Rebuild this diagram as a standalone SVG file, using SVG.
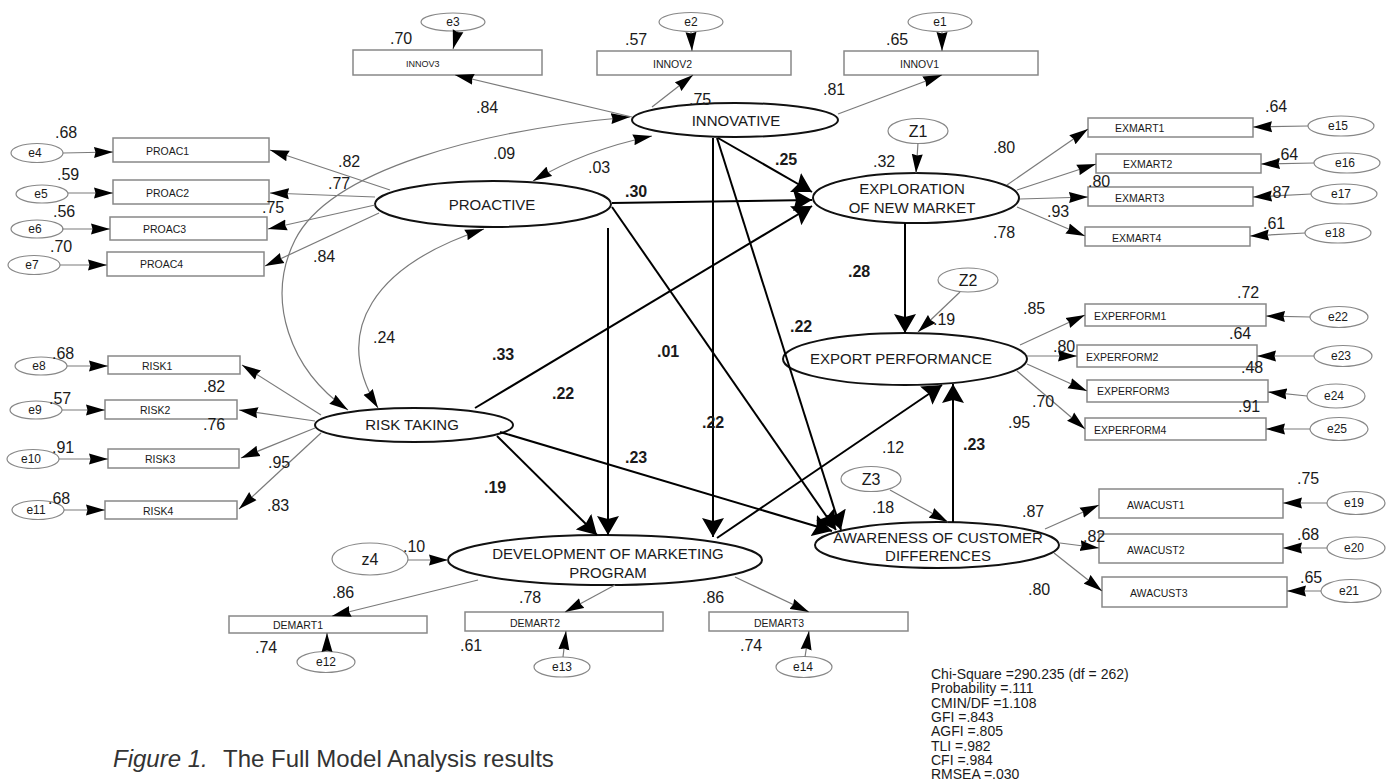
<svg xmlns="http://www.w3.org/2000/svg" width="1389" height="783" viewBox="0 0 1389 783">
<style>
text{font-family:"Liberation Sans",Arial,sans-serif;fill:#1a1a1a}
.lat{fill:#fff;stroke:#111;stroke-width:2}
.err{fill:#fff;stroke:#888;stroke-width:1.2}
.ind{fill:#fff;stroke:#888;stroke-width:1.5}
.thin{stroke:#7a7a7a;stroke-width:1.2;fill:none}
.bold{stroke:#000;stroke-width:2;fill:none}
.tl{font-size:15px;text-anchor:middle}
.ti{font-size:10.5px}
.te{font-size:12px;text-anchor:middle}
.tz{font-size:16px;text-anchor:middle}
.tn{font-size:16px}
.tb{font-size:16px;font-weight:bold}
.fit{font-size:14px}
</style>
<defs>
<marker id="ah" markerUnits="userSpaceOnUse" markerWidth="20" markerHeight="12" refX="19" refY="6" orient="auto"><path d="M0,0.5 L19,6 L0,11.5 L1.5,6 z" fill="#000"/></marker>
<marker id="ahs" markerUnits="userSpaceOnUse" markerWidth="20" markerHeight="12" refX="19" refY="6" orient="auto-start-reverse"><path d="M0,0.5 L19,6 L0,11.5 L1.5,6 z" fill="#000"/></marker>
<marker id="ab" markerUnits="userSpaceOnUse" markerWidth="20" markerHeight="22" refX="19" refY="11" orient="auto"><path d="M0,0 L19,11 L0,22 L3,11 z" fill="#000"/></marker>
</defs>
<rect width="1389" height="783" fill="#fff"/>

<!-- latent nodes -->
<g id="innovative"><ellipse class="lat" cx="735" cy="120" rx="103" ry="17"/><text class="tl" x="736" y="126">INNOVATIVE</text></g>
<g id="proactive"><ellipse class="lat" cx="493" cy="204" rx="118" ry="23"/><text class="tl" x="492" y="210">PROACTIVE</text></g>
<g id="risktaking"><ellipse class="lat" cx="414" cy="425" rx="99" ry="17"/><text class="tl" x="412" y="430">RISK TAKING</text></g>
<g id="exploration"><ellipse class="lat" cx="916" cy="198" rx="103" ry="25"/><text class="tl" x="912" y="194">EXPLORATION</text><text class="tl" x="912" y="213">OF NEW MARKET</text></g>
<g id="exportperf"><ellipse class="lat" cx="905" cy="359" rx="122" ry="26"/><text class="tl" x="901" y="364">EXPORT PERFORMANCE</text></g>
<g id="awareness"><ellipse class="lat" cx="937" cy="545" rx="122" ry="23"/><text class="tl" x="938" y="543">AWARENESS OF CUSTOMER</text><text class="tl" x="938" y="561">DIFFERENCES</text></g>
<g id="development"><ellipse class="lat" cx="605" cy="560" rx="157" ry="25"/><text class="tl" x="608" y="559">DEVELOPMENT OF MARKETING</text><text class="tl" x="608" y="578">PROGRAM</text></g>

<!-- disturbances -->
<g id="Z1"><ellipse class="err" cx="918" cy="131" rx="30" ry="12.5"/><text class="tz" x="918" y="137">Z1</text></g>
<g id="Z2"><ellipse class="err" cx="968" cy="280" rx="30" ry="12"/><text class="tz" x="968" y="286">Z2</text></g>
<g id="Z3"><ellipse class="err" cx="871" cy="479" rx="30" ry="12.5"/><text class="tz" x="871" y="485">Z3</text></g>
<g id="z4"><ellipse class="err" cx="370" cy="559" rx="38" ry="16"/><text class="tz" x="370" y="565">z4</text></g>

<!-- indicators -->
<g id="INNOV3"><rect class="ind" x="353" y="50" width="189" height="25"/><text class="ti" x="406" y="67" style="font-size:9px">INNOV3</text></g>
<g id="INNOV2"><rect class="ind" x="597" y="51" width="194" height="24"/><text class="ti" x="653" y="68">INNOV2</text></g>
<g id="INNOV1"><rect class="ind" x="844" y="51" width="194" height="24"/><text class="ti" x="900" y="68">INNOV1</text></g>
<g id="PROAC1"><rect class="ind" x="113" y="138" width="156" height="24"/><text class="ti" x="146" y="155">PROAC1</text></g>
<g id="PROAC2"><rect class="ind" x="113" y="180" width="156" height="24"/><text class="ti" x="146" y="197">PROAC2</text></g>
<g id="PROAC3"><rect class="ind" x="110" y="217" width="157" height="23"/><text class="ti" x="143" y="233">PROAC3</text></g>
<g id="PROAC4"><rect class="ind" x="107" y="252" width="157" height="24"/><text class="ti" x="140" y="268">PROAC4</text></g>
<g id="RISK1"><rect class="ind" x="108" y="356" width="132" height="18"/><text class="ti" x="142" y="370">RISK1</text></g>
<g id="RISK2"><rect class="ind" x="105" y="400" width="132" height="19"/><text class="ti" x="140" y="414">RISK2</text></g>
<g id="RISK3"><rect class="ind" x="108" y="449" width="131" height="19"/><text class="ti" x="145" y="463">RISK3</text></g>
<g id="RISK4"><rect class="ind" x="105" y="501" width="132" height="18"/><text class="ti" x="143" y="515">RISK4</text></g>
<g id="EXMART1"><rect class="ind" x="1088" y="118" width="165" height="19"/><text class="ti" x="1115" y="132">EXMART1</text></g>
<g id="EXMART2"><rect class="ind" x="1096" y="154" width="165" height="19"/><text class="ti" x="1123" y="168">EXMART2</text></g>
<g id="EXMART3"><rect class="ind" x="1088" y="187" width="165" height="19"/><text class="ti" x="1115" y="202">EXMART3</text></g>
<g id="EXMART4"><rect class="ind" x="1085" y="227" width="165" height="19"/><text class="ti" x="1112" y="242">EXMART4</text></g>
<g id="EXPERFORM1"><rect class="ind" x="1085" y="304" width="181" height="22"/><text class="ti" x="1094" y="320">EXPERFORM1</text></g>
<g id="EXPERFORM2"><rect class="ind" x="1077" y="345" width="180" height="22"/><text class="ti" x="1086" y="361">EXPERFORM2</text></g>
<g id="EXPERFORM3"><rect class="ind" x="1087" y="380" width="181" height="22"/><text class="ti" x="1097" y="395">EXPERFORM3</text></g>
<g id="EXPERFORM4"><rect class="ind" x="1085" y="418" width="181" height="22"/><text class="ti" x="1094" y="434">EXPERFORM4</text></g>
<g id="AWACUST1"><rect class="ind" x="1099" y="489" width="184" height="29"/><text class="ti" x="1127" y="509">AWACUST1</text></g>
<g id="AWACUST2"><rect class="ind" x="1099" y="534" width="184" height="29"/><text class="ti" x="1127" y="554">AWACUST2</text></g>
<g id="AWACUST3"><rect class="ind" x="1102" y="577" width="185" height="30"/><text class="ti" x="1130" y="597">AWACUST3</text></g>
<g id="DEMART1"><rect class="ind" x="229" y="616" width="198" height="17"/><text class="ti" x="273" y="629">DEMART1</text></g>
<g id="DEMART2"><rect class="ind" x="465" y="612" width="198" height="19"/><text class="ti" x="510" y="627">DEMART2</text></g>
<g id="DEMART3"><rect class="ind" x="709" y="612" width="199" height="19"/><text class="ti" x="754" y="627">DEMART3</text></g>

<!-- error terms -->
<g id="e1"><ellipse class="err" cx="940" cy="22" rx="32" ry="9.5"/><text class="te" x="940" y="26">e1</text></g>
<g id="e2"><ellipse class="err" cx="691" cy="22" rx="32" ry="9.5"/><text class="te" x="691" y="26">e2</text></g>
<g id="e3"><ellipse class="err" cx="453" cy="22" rx="32" ry="9"/><text class="te" x="453" y="26">e3</text></g>
<g id="e4"><ellipse class="err" cx="37" cy="153" rx="26" ry="9.5"/><text class="te" x="35" y="157">e4</text></g>
<g id="e5"><ellipse class="err" cx="42" cy="194" rx="26" ry="9"/><text class="te" x="41" y="198">e5</text></g>
<g id="e6"><ellipse class="err" cx="37" cy="229" rx="26" ry="9"/><text class="te" x="35" y="233">e6</text></g>
<g id="e7"><ellipse class="err" cx="34" cy="265" rx="26" ry="9.5"/><text class="te" x="32" y="269">e7</text></g>
<g id="e8"><ellipse class="err" cx="41" cy="366" rx="26" ry="9"/><text class="te" x="39" y="370">e8</text></g>
<g id="e9"><ellipse class="err" cx="36" cy="410" rx="26" ry="9"/><text class="te" x="35" y="414">e9</text></g>
<g id="e10"><ellipse class="err" cx="33" cy="459" rx="26" ry="9.5"/><text class="te" x="31" y="463">e10</text></g>
<g id="e11"><ellipse class="err" cx="38" cy="510" rx="26" ry="9.5"/><text class="te" x="36" y="514">e11</text></g>
<g id="e12"><ellipse class="err" cx="326" cy="662" rx="29" ry="10.5"/><text class="te" x="326" y="666">e12</text></g>
<g id="e13"><ellipse class="err" cx="562" cy="667" rx="28" ry="10"/><text class="te" x="562" y="671">e13</text></g>
<g id="e14"><ellipse class="err" cx="804" cy="667" rx="28" ry="10.5"/><text class="te" x="803" y="671">e14</text></g>
<g id="e15"><ellipse class="err" cx="1341" cy="126" rx="33" ry="10"/><text class="te" x="1338" y="130">e15</text></g>
<g id="e16"><ellipse class="err" cx="1347" cy="163" rx="33" ry="10"/><text class="te" x="1345" y="167">e16</text></g>
<g id="e17"><ellipse class="err" cx="1344" cy="194" rx="33" ry="10"/><text class="te" x="1341" y="198">e17</text></g>
<g id="e18"><ellipse class="err" cx="1338" cy="233" rx="33" ry="10"/><text class="te" x="1335" y="237">e18</text></g>
<g id="e19"><ellipse class="err" cx="1356" cy="503" rx="29" ry="11.5"/><text class="te" x="1354" y="507">e19</text></g>
<g id="e20"><ellipse class="err" cx="1356" cy="548" rx="29" ry="11"/><text class="te" x="1354" y="552">e20</text></g>
<g id="e21"><ellipse class="err" cx="1351" cy="591" rx="30" ry="11.5"/><text class="te" x="1349" y="595">e21</text></g>
<g id="e22"><ellipse class="err" cx="1339" cy="317" rx="29" ry="10.5"/><text class="te" x="1338" y="321">e22</text></g>
<g id="e23"><ellipse class="err" cx="1343" cy="356" rx="29" ry="10.5"/><text class="te" x="1341" y="360">e23</text></g>
<g id="e24"><ellipse class="err" cx="1336" cy="396" rx="29" ry="12"/><text class="te" x="1334" y="400">e24</text></g>
<g id="e25"><ellipse class="err" cx="1339" cy="429" rx="29" ry="11.5"/><text class="te" x="1337" y="433">e25</text></g>

<!-- connectors -->
<g id="connectors">
<g class="thin" marker-end="url(#ah)">
<line x1="458" y1="31" x2="453" y2="49"/>
<line x1="691" y1="32" x2="692" y2="51"/>
<line x1="942" y1="32" x2="942" y2="51"/>
<line x1="63" y1="153" x2="113" y2="152"/>
<line x1="68" y1="193" x2="113" y2="193"/>
<line x1="62" y1="229" x2="110" y2="229"/>
<line x1="60" y1="265" x2="107" y2="265"/>
<line x1="67" y1="366" x2="108" y2="366"/>
<line x1="62" y1="410" x2="105" y2="410"/>
<line x1="59" y1="459" x2="108" y2="459"/>
<line x1="64" y1="510" x2="105" y2="510"/>
<line x1="1308" y1="126" x2="1253" y2="127"/>
<line x1="1314" y1="163" x2="1261" y2="164"/>
<line x1="1311" y1="194" x2="1253" y2="197"/>
<line x1="1305" y1="233" x2="1250" y2="236"/>
<line x1="1310" y1="317" x2="1266" y2="316"/>
<line x1="1314" y1="356" x2="1257" y2="356"/>
<line x1="1307" y1="396" x2="1268" y2="392"/>
<line x1="1310" y1="429" x2="1266" y2="429"/>
<line x1="1327" y1="503" x2="1283" y2="503"/>
<line x1="1327" y1="548" x2="1283" y2="548"/>
<line x1="1321" y1="591" x2="1287" y2="591"/>
<line x1="327" y1="651" x2="327" y2="633"/>
<line x1="563" y1="657" x2="566" y2="631"/>
<line x1="805" y1="657" x2="809" y2="631"/>
<line x1="918" y1="143" x2="916" y2="173"/>
<line x1="960" y1="292" x2="918" y2="332"/>
<line x1="890" y1="490" x2="948" y2="522"/>
<line x1="408" y1="560" x2="448" y2="560"/>
<line x1="632" y1="117" x2="455" y2="75"/>
<line x1="652" y1="107" x2="693" y2="75"/>
<line x1="838" y1="114" x2="942" y2="75"/>
<line x1="390" y1="190" x2="270" y2="150"/>
<line x1="375" y1="197" x2="270" y2="193"/>
<line x1="375" y1="205" x2="268" y2="229"/>
<line x1="379" y1="213" x2="265" y2="266"/>
<line x1="321" y1="415" x2="242" y2="365"/>
<line x1="315" y1="421" x2="239" y2="410"/>
<line x1="315" y1="428" x2="241" y2="458"/>
<line x1="321" y1="433" x2="239" y2="509"/>
<line x1="1007" y1="185" x2="1088" y2="129"/>
<line x1="1017" y1="190" x2="1096" y2="164"/>
<line x1="1020" y1="199" x2="1088" y2="197"/>
<line x1="1017" y1="207" x2="1085" y2="236"/>
<line x1="1020" y1="345" x2="1085" y2="315"/>
<line x1="1027" y1="356" x2="1077" y2="356"/>
<line x1="1027" y1="364" x2="1087" y2="391"/>
<line x1="1017" y1="371" x2="1085" y2="429"/>
<line x1="1045" y1="529" x2="1099" y2="505"/>
<line x1="1060" y1="543" x2="1099" y2="548"/>
<line x1="1054" y1="553" x2="1102" y2="591"/>
<line x1="478" y1="580" x2="332" y2="616"/>
<line x1="615" y1="585" x2="565" y2="612"/>
<line x1="735" y1="577" x2="809" y2="612"/>
</g>
<g class="thin" marker-start="url(#ahs)" marker-end="url(#ahs)">
<path d="M630,117 C480,130 330,170 295,240 C265,300 290,370 348,410"/>
<path d="M652,136 Q585,150 533,181"/>
<path d="M484,229 C375,265 330,330 378,408"/>
</g>
<g class="bold" marker-end="url(#ab)">
<line x1="718" y1="138" x2="812" y2="192"/>
<line x1="612" y1="203" x2="812" y2="200"/>
<line x1="475" y1="408" x2="812" y2="206"/>
<line x1="905" y1="223" x2="905" y2="333"/>
<line x1="608" y1="228" x2="608" y2="535"/>
<line x1="713" y1="138" x2="713" y2="537"/>
<line x1="497" y1="436" x2="597" y2="535"/>
<line x1="612" y1="207" x2="836" y2="530"/>
<line x1="717" y1="138" x2="841" y2="530"/>
<line x1="500" y1="432" x2="832" y2="531"/>
<line x1="717" y1="538" x2="942" y2="385"/>
<line x1="953" y1="522" x2="953" y2="384"/>
</g>
</g>

<!-- coefficient labels -->
<g id="labels">
<text class="tn" x="390" y="44">.70</text>
<text class="tn" x="625" y="45">.57</text>
<text class="tn" x="886" y="45">.65</text>
<text class="tn" x="476" y="113">.84</text>
<text class="tn" x="689" y="105">.75</text>
<text class="tn" x="823" y="95">.81</text>
<text class="tn" x="493" y="159">.09</text>
<text class="tn" x="588" y="173">.03</text>
<text class="tb" x="775" y="165">.25</text>
<text class="tb" x="625" y="197">.30</text>
<text class="tn" x="873" y="167">.32</text>
<text class="tn" x="993" y="153">.80</text>
<text class="tn" x="1088" y="187">.80</text>
<text class="tn" x="1047" y="217">.93</text>
<text class="tn" x="993" y="238">.78</text>
<text class="tn" x="1265" y="112">.64</text>
<text class="tn" x="1276" y="160">.64</text>
<text class="tn" x="1268" y="198">.87</text>
<text class="tn" x="1263" y="229">.61</text>
<text class="tn" x="55" y="138">.68</text>
<text class="tn" x="57" y="180">.59</text>
<text class="tn" x="53" y="217">.56</text>
<text class="tn" x="50" y="252">.70</text>
<text class="tn" x="338" y="167">.82</text>
<text class="tn" x="328" y="189">.77</text>
<text class="tn" x="262" y="213">.75</text>
<text class="tn" x="313" y="262">.84</text>
<text class="tn" x="373" y="343">.24</text>
<text class="tn" x="52" y="359">.68</text>
<text class="tn" x="49" y="404">.57</text>
<text class="tn" x="52" y="453">.91</text>
<text class="tn" x="48" y="504">.68</text>
<text class="tn" x="203" y="392">.82</text>
<text class="tn" x="203" y="430">.76</text>
<text class="tn" x="268" y="468">.95</text>
<text class="tn" x="267" y="511">.83</text>
<text class="tb" x="492" y="360">.33</text>
<text class="tb" x="552" y="399">.22</text>
<text class="tb" x="657" y="357">.01</text>
<text class="tb" x="702" y="428">.22</text>
<text class="tb" x="625" y="463">.23</text>
<text class="tb" x="484" y="493">.19</text>
<text class="tb" x="790" y="332">.22</text>
<text class="tb" x="848" y="277">.28</text>
<text class="tn" x="882" y="453">.12</text>
<text class="tb" x="963" y="450">.23</text>
<text class="tn" x="933" y="325">.19</text>
<text class="tn" x="872" y="513">.18</text>
<text class="tn" x="403" y="552">.10</text>
<text class="tn" x="1023" y="314">.85</text>
<text class="tn" x="1053" y="352">.80</text>
<text class="tn" x="1032" y="407">.70</text>
<text class="tn" x="1008" y="428">.95</text>
<text class="tn" x="1237" y="298">.72</text>
<text class="tn" x="1229" y="339">.64</text>
<text class="tn" x="1241" y="373">.48</text>
<text class="tn" x="1238" y="412">.91</text>
<text class="tn" x="1022" y="517">.87</text>
<text class="tn" x="1083" y="542">.82</text>
<text class="tn" x="1028" y="595">.80</text>
<text class="tn" x="1297" y="484">.75</text>
<text class="tn" x="1297" y="540">.68</text>
<text class="tn" x="1300" y="583">.65</text>
<text class="tn" x="332" y="598">.86</text>
<text class="tn" x="255" y="653">.74</text>
<text class="tn" x="519" y="603">.78</text>
<text class="tn" x="460" y="651">.61</text>
<text class="tn" x="702" y="603">.86</text>
<text class="tn" x="740" y="651">.74</text>
</g>

<g id="fit">
<text class="fit" x="931" y="679">Chi-Square =290.235 (df = 262)</text>
<text class="fit" x="931" y="693">Probability =.111</text>
<text class="fit" x="931" y="708">CMIN/DF =1.108</text>
<text class="fit" x="931" y="722">GFI =.843</text>
<text class="fit" x="931" y="736">AGFI =.805</text>
<text class="fit" x="931" y="751">TLI =.982</text>
<text class="fit" x="931" y="765">CFI =.984</text>
<text class="fit" x="931" y="779">RMSEA =.030</text>
</g>

<g id="caption">
<text x="113" y="767" style="font-size:24px;font-style:italic;fill:#333">Figure 1.</text>
<text x="223" y="767" style="font-size:24px;fill:#333">The Full Model Analysis results</text>
</g>
</svg>
